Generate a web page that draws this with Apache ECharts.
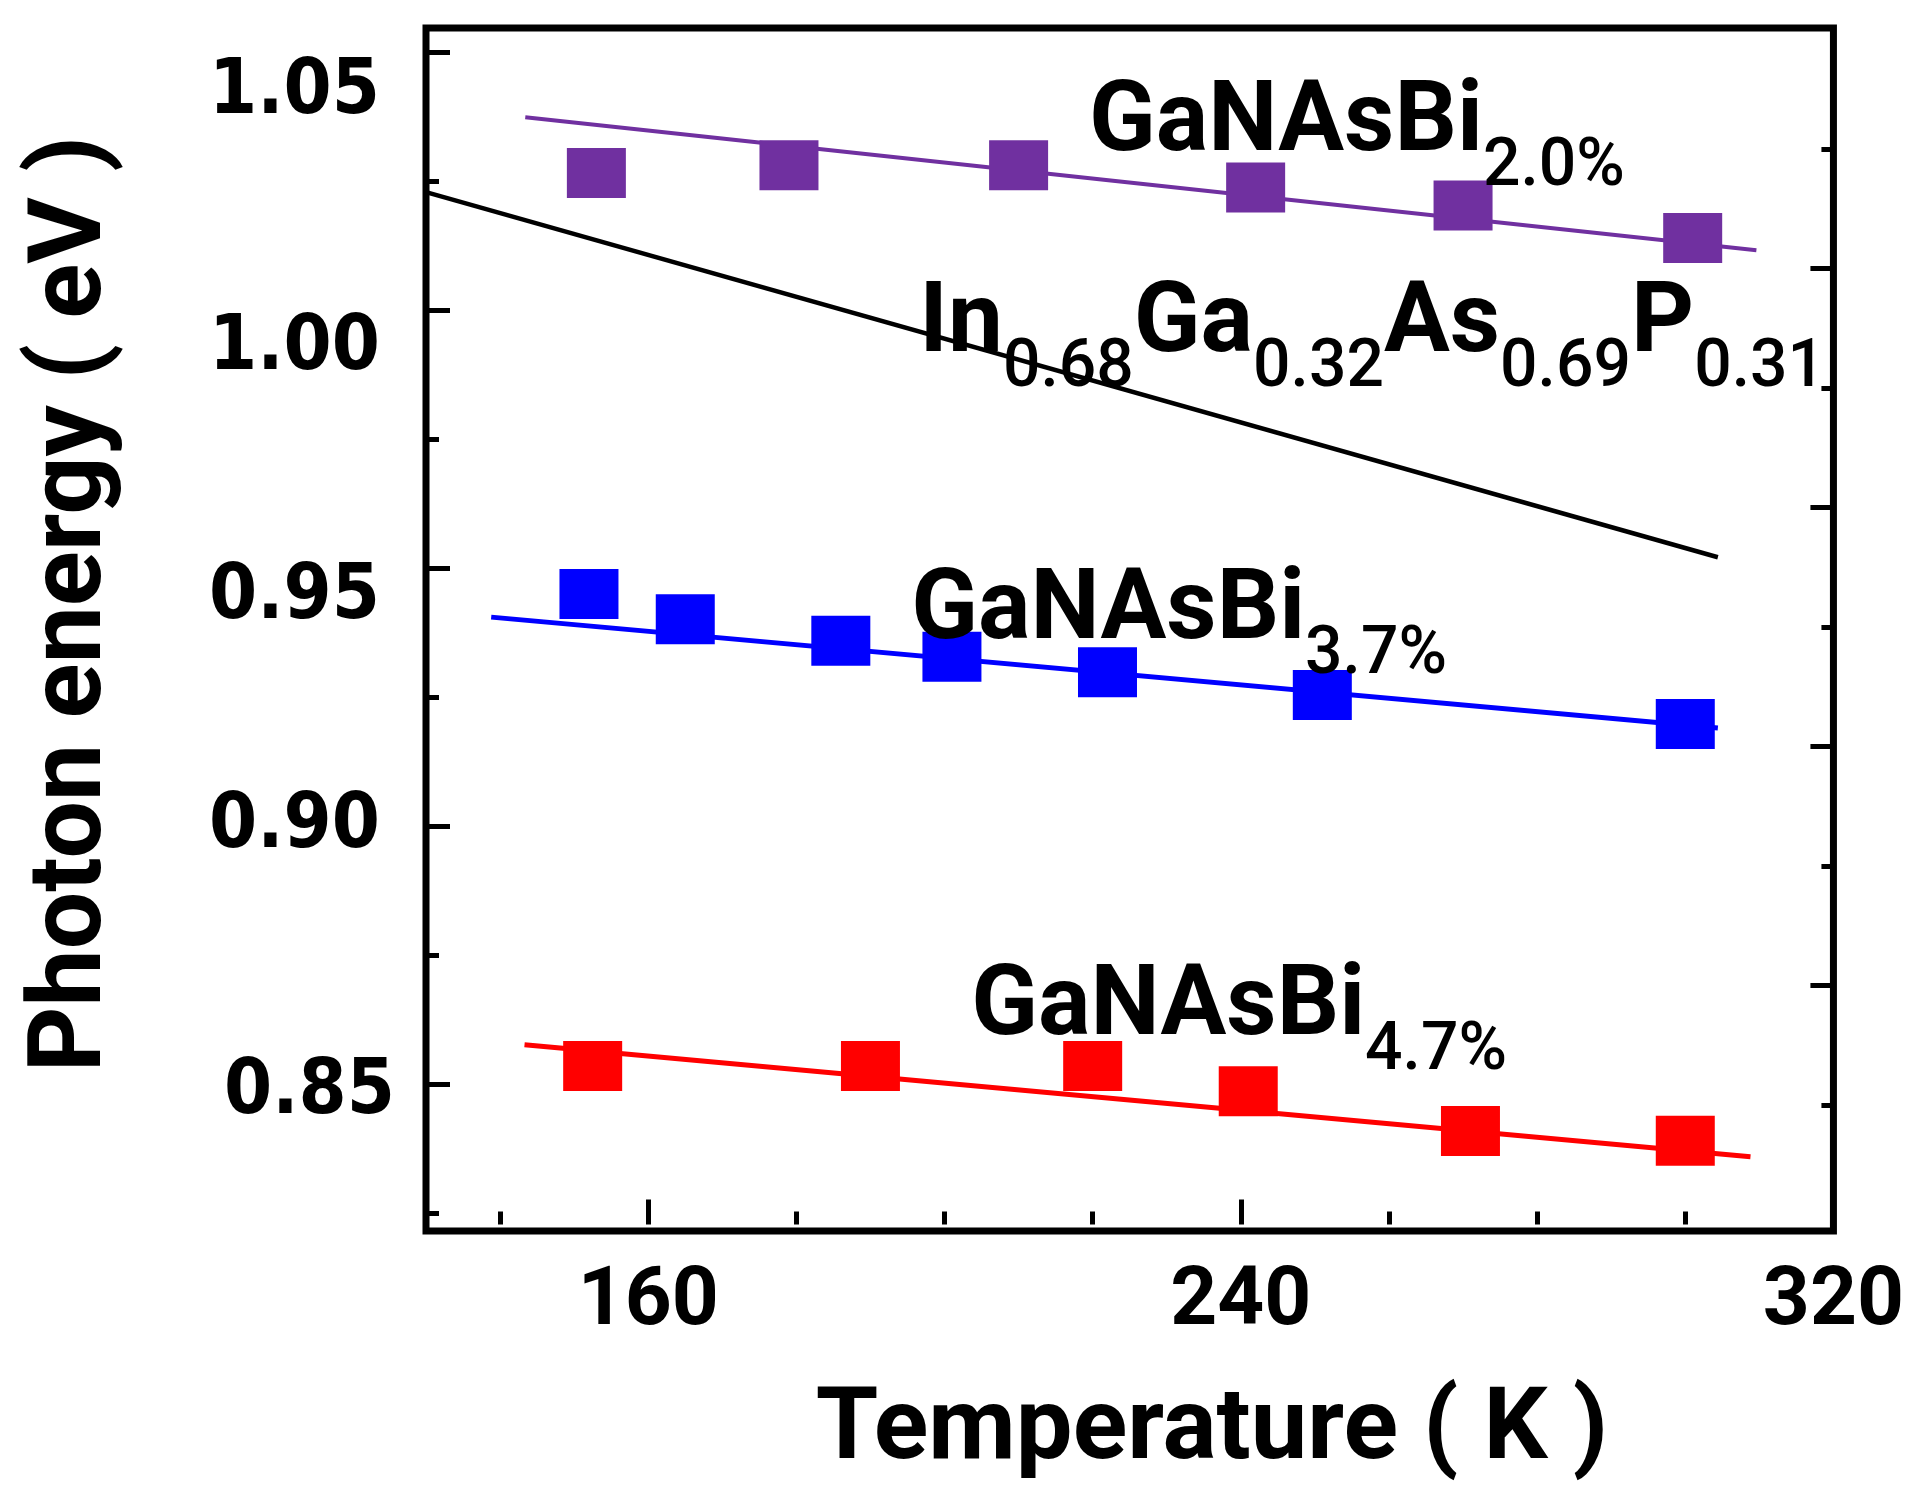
<!DOCTYPE html>
<html>
<head>
<meta charset="utf-8">
<script src="https://cdn.jsdelivr.net/npm/echarts@6/dist/echarts.min.js"></script>
<style>
  html, body { margin: 0; padding: 0; background: #fff; }
  #chart { width: 1907px; height: 1506px; }
</style>
</head>
<body>
<div id="chart"></div>
<script>
// values: temperature (K) / photon energy (eV)
const bi20T = [153, 179, 210, 242, 270, 301];
const bi20E = [1.0266, 1.0281, 1.0281, 1.0238, 1.0203, 1.0140];
const bi20FitT = [143.4, 309.6];
const bi20FitE = [1.0374, 1.0116];

const bi37T = [152, 165, 186, 201, 222, 251, 300];
const bi37E = [0.9450, 0.9401, 0.9359, 0.9328, 0.9298, 0.9254, 0.9198];
const bi37FitT = [138.8, 304.4];
const bi37FitE = [0.9405, 0.9190];

const bi47T = [152.5, 190, 220, 241, 271, 300];
const bi47E = [0.8535, 0.8535, 0.8535, 0.8486, 0.8409, 0.8390];
const bi47FitT = [143.3, 308.8];
const bi47FitE = [0.8576, 0.8359];

const ingaaspT = [130, 304.4];
const ingaaspE = [1.0229, 0.9521];

const xMajorTicks = [160, 240, 320];
const xMinorTicks = [140, 180, 200, 220, 260, 280, 300];
const yMajorTicks = [0.85, 0.90, 0.95, 1.00, 1.05];
const yMinorTicks = [0.825, 0.875, 0.925, 0.975, 1.025];
// the right frame has its own tick spacing, no labels
const rightMajorTicks = [2, 4, 6, 8];
const rightMinorTicks = [1, 3, 5, 7, 9];

const pairs = (xs, ys) => xs.map((x, i) => [x, ys[i]]);

/* -------------------------------------------------------------------------- */

const MAIN_SIZE = 98;
const SUB_SIZE = 66;
const MAIN_FONT = 'bold ' + MAIN_SIZE + 'px Roboto';
const SUB_FONT = '500 ' + SUB_SIZE + 'px Roboto';
const SUB_DROP = 32;

// text labels: [text, isSubscript], anchored at left baseline (data coords)
const annotations = [
  { parts: [['GaNAsBi', 0], ['2.0%', 1]], at: [219.5, 1.0302] },
  { parts: [['In', 0], ['0.68', 1], ['Ga', 0], ['0.32', 1], ['As', 0], ['0.69', 1], ['P', 0], ['0.31', 1]], at: [196.6, 0.9913] },
  { parts: [['GaNAsBi', 0], ['3.7%', 1]], at: [195.5, 0.9357] },
  { parts: [['GaNAsBi', 0], ['4.7%', 1]], at: [203.6, 0.8589] }
];

// per-label vertical nudges of y tick labels (px, + = down), right padding
const yLabelShift = { '1.05': 41, '1.00': 39, '0.95': 30, '0.90': 1, '0.85': 9 };
const yLabelPadRight = { '1.05': 15, '1.00': 15, '0.95': 15, '0.90': 15, '0.85': 0 };

const yRich = {};
Object.keys(yLabelShift).forEach(k => {
  const d = yLabelShift[k];
  yRich['t' + k.replace('.', '')] = {
    fontFamily: '"DejaVu Sans Condensed", "DejaVu Sans"',
    fontWeight: 'bold',
    fontSize: 77,
    color: '#000',
    padding: [d > 0 ? 2 * d : 0, yLabelPadRight[k], d < 0 ? -2 * d : 0, 0]
  };
});

const tickStyle = { color: '#000', width: 5 };

const chart = echarts.init(document.getElementById('chart'));

chart.setOption({
  backgroundColor: '#fff',
  animation: false,
  grid: {
    left: 426, right: 56, top: 28, bottom: 275,
    show: true, borderColor: '#000', borderWidth: 7
  },
  xAxis: [
    {
      type: 'value', position: 'bottom', min: 130, max: 320,
      axisLine: { show: false },
      axisTick: { show: true, inside: true, length: 25, lineStyle: tickStyle, customValues: xMajorTicks },
      axisLabel: {
        customValues: xMajorTicks, margin: 31, color: '#000',
        fontFamily: 'Roboto', fontWeight: 'bold', fontSize: 82
      },
      splitLine: { show: false }
    },
    {
      type: 'value', position: 'bottom', min: 130, max: 320,
      axisLine: { show: false },
      axisTick: { show: true, inside: true, length: 13, lineStyle: tickStyle, customValues: xMinorTicks },
      axisLabel: { show: false },
      splitLine: { show: false }
    }
  ],
  yAxis: [
    {
      type: 'value', position: 'left', min: 0.8215, max: 1.0547,
      axisLine: { show: false },
      axisTick: { show: true, inside: true, length: 24, lineStyle: tickStyle, customValues: yMajorTicks },
      axisLabel: {
        customValues: yMajorTicks, margin: 31,
        formatter: v => {
          const s = v.toFixed(2);
          return '{t' + s.replace('.', '') + '|' + s + '}';
        },
        rich: yRich
      },
      splitLine: { show: false }
    },
    {
      type: 'value', position: 'left', min: 0.8215, max: 1.0547,
      axisLine: { show: false },
      axisTick: { show: true, inside: true, length: 13, lineStyle: tickStyle, customValues: yMinorTicks },
      axisLabel: { show: false },
      splitLine: { show: false }
    },
    {
      type: 'value', position: 'right', min: -0.054, max: 10.013,
      axisLine: { show: false },
      axisTick: { show: true, inside: true, length: 23, lineStyle: tickStyle, customValues: rightMajorTicks },
      axisLabel: { show: false },
      splitLine: { show: false }
    },
    {
      type: 'value', position: 'right', min: -0.054, max: 10.013,
      axisLine: { show: false },
      axisTick: { show: true, inside: true, length: 12, lineStyle: tickStyle, customValues: rightMinorTicks },
      axisLabel: { show: false },
      splitLine: { show: false }
    }
  ],
  series: [
    {
      name: 'InGaAsP', type: 'line', symbol: 'none', z: 2,
      lineStyle: { color: '#000', width: 4.5 },
      data: pairs(ingaaspT, ingaaspE)
    },
    {
      name: 'fit 2.0%', type: 'line', symbol: 'none', z: 2,
      lineStyle: { color: '#7030A0', width: 4 },
      data: pairs(bi20FitT, bi20FitE)
    },
    {
      name: 'fit 3.7%', type: 'line', symbol: 'none', z: 2,
      lineStyle: { color: '#0000FF', width: 5 },
      data: pairs(bi37FitT, bi37FitE)
    },
    {
      name: 'fit 4.7%', type: 'line', symbol: 'none', z: 2,
      lineStyle: { color: '#FF0000', width: 5 },
      data: pairs(bi47FitT, bi47FitE)
    },
    {
      name: 'GaNAsBi 2.0%', type: 'scatter', symbol: 'rect', symbolSize: [59, 50], z: 3,
      itemStyle: { color: '#7030A0', opacity: 1 },
      data: pairs(bi20T, bi20E)
    },
    {
      name: 'GaNAsBi 3.7%', type: 'scatter', symbol: 'rect', symbolSize: [59, 50], z: 3,
      itemStyle: { color: '#0000FF', opacity: 1 },
      data: pairs(bi37T, bi37E)
    },
    {
      name: 'GaNAsBi 4.7%', type: 'scatter', symbol: 'rect', symbolSize: [59, 50], z: 3,
      itemStyle: { color: '#FF0000', opacity: 1 },
      data: pairs(bi47T, bi47E)
    }
  ]
});

// chemical formulas with subscripts, laid out piece by piece
const ctx = document.createElement('canvas').getContext('2d');
const textWidth = (str, font) => { ctx.font = font; return ctx.measureText(str).width; };

const graphics = [];
annotations.forEach(a => {
  const p = chart.convertToPixel({ xAxisIndex: 0, yAxisIndex: 0 }, a.at);
  let x = p[0];
  a.parts.forEach(([txt, isSub]) => {
    const font = isSub ? SUB_FONT : MAIN_FONT;
    const size = isSub ? SUB_SIZE : MAIN_SIZE;
    const base = p[1] + 5 + (isSub ? SUB_DROP : 0);
    graphics.push({
      type: 'text', x: x, y: base - 0.342 * size, z: 10,
      style: { text: txt, font: font, fill: '#000', textAlign: 'left', verticalAlign: 'middle', textVerticalAlign: 'middle' }
    });
    x += textWidth(txt, font);
  });
});

// axis titles
graphics.push({
  type: 'text', x: 1212, y: 1433, z: 10,
  style: { text: 'Temperature ( K )', font: 'bold 101px Roboto', fill: '#000', textAlign: 'center', verticalAlign: 'middle', textVerticalAlign: 'middle' }
});
graphics.push({
  type: 'text', x: 74, y: 604, rotation: Math.PI / 2, z: 10,
  style: { text: 'Photon energy ( eV )', font: 'bold 102px Roboto', fill: '#000', textAlign: 'center', verticalAlign: 'middle', textVerticalAlign: 'middle' }
});

chart.setOption({ graphic: graphics });
</script>
</body>
</html>
